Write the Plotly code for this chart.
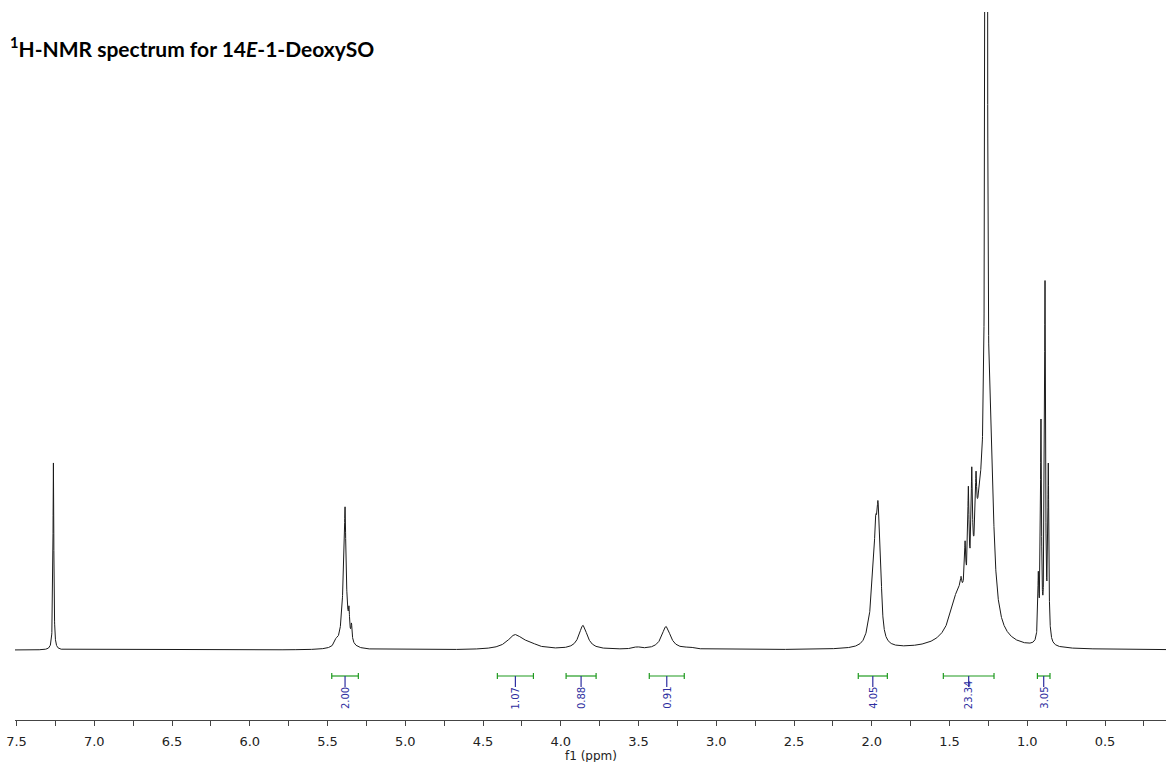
import numpy as np
import plotly.graph_objects as go

# peaks: shift (ppm), height (intensity units), half width (ppm)
peak_ppm = [7.263,
            5.445, 5.390, 5.387, 5.362, 5.346,
            4.294, 4.200, 3.857, 3.510, 3.323, 3.170,
            2.010, 1.990, 1.975, 1.960, 1.945,
            1.445, 1.426, 1.400, 1.379, 1.357, 1.330, 1.301, 1.264, 1.233,
            0.929, 0.912, 0.886, 0.865]
peak_height = [187,
               5, 85, 60, 20, 15,
               14, 4, 24, 2, 23, 1.5,
               20, 45, 75, 97, 55,
               45, 10, 45, 95, 100, 57, 125, 3133, 130,
               60, 215, 355, 170]
peak_hwhm = [0.0032,
             0.012, 0.016, 0.0045, 0.004, 0.004,
             0.06, 0.06, 0.032, 0.03, 0.034, 0.04,
             0.026, 0.0103, 0.0103, 0.0103, 0.0103,
             0.06, 0.005, 0.005, 0.005, 0.005, 0.005, 0.048, 0.0037, 0.021,
             0.004, 0.004, 0.004, 0.004]

# integral regions (ppm) and their values
integral_start = [5.473, 4.408, 3.966, 3.431, 2.087, 1.540, 0.935]
integral_end = [5.302, 4.176, 3.773, 3.206, 1.900, 1.214, 0.854]
integral_value = ['2.00', '1.07', '0.88', '0.91', '4.05', '23.34', '3.05']

ppm = np.arange(0.10, 7.52, 0.0005)
intensity = np.zeros_like(ppm)
for p, h, w in zip(peak_ppm, peak_height, peak_hwhm):
    intensity += h / (1 + ((ppm - p) / w) ** 2)

fig = go.Figure()
fig.add_trace(go.Scatter(x=ppm, y=intensity, mode='lines',
                         line=dict(color='#1a1a1a', width=1), hoverinfo='skip'))

# integral bars
bar_y = -26
cap = 3
tick_bottom = -37
label_y = -61
gx, gy, bx, by = [], [], [], []
for s, e in zip(integral_start, integral_end):
    gx += [s, e, None, s, s, None, e, e, None]
    gy += [bar_y, bar_y, None, bar_y - cap, bar_y + cap, None, bar_y - cap, bar_y + cap, None]
    mid = (s + e) / 2
    bx += [mid, mid, None]
    by += [bar_y, tick_bottom, None]
fig.add_trace(go.Scatter(x=gx, y=gy, mode='lines', line=dict(color='#1f9a1f', width=1.2),
                         hoverinfo='skip'))
fig.add_trace(go.Scatter(x=bx, y=by, mode='lines', line=dict(color='#2e2ea0', width=1.2),
                         hoverinfo='skip'))
for s, e, v in zip(integral_start, integral_end, integral_value):
    fig.add_annotation(x=(s + e) / 2, y=label_y, text=v, textangle=-90, showarrow=False,
                       xanchor='center', yanchor='bottom',
                       font=dict(family='DejaVu Sans', size=10, color='#2e2ea0'))

fig.add_annotation(x=0, y=1, xref='paper', yref='paper', xanchor='left', yanchor='middle',
                   xshift=-7, yshift=-35, showarrow=False,
                   text='<b><sup>1</sup>H-NMR spectrum for 14<i>E</i>-1-DeoxySO</b>',
                   font=dict(family='Lato', size=21, color='black'))
fig.add_annotation(x=0.5, y=0, xref='paper', yref='paper', xanchor='center', yanchor='middle',
                   yshift=-36, showarrow=False, text='f1 (ppm)',
                   font=dict(family='DejaVu Sans', size=12, color='#222'))

fig.update_layout(width=1166, height=762, autosize=False,
                  margin=dict(l=15, r=0, t=12, b=42),
                  plot_bgcolor='white', paper_bgcolor='white', showlegend=False)
fig.update_xaxes(range=[7.51, 0.108], showline=True, linecolor='#444', linewidth=1,
                 ticks='outside', ticklen=5, tickcolor='#444', tick0=0, dtick=0.5,
                 tickformat='.1f', showgrid=False, zeroline=False, ticklabelstandoff=4,
                 ticklabeloverflow='allow',
                 tickfont=dict(family='DejaVu Sans', size=13, color='#222'),
                 minor=dict(dtick=0.25, ticks='outside', ticklen=5, tickcolor='#444'))
fig.update_yaxes(visible=False, range=[-70, 638])

# drop the default page margin so the figure fills the window
fig.write_html('out.html', config={'displayModeBar': False},
               post_script="document.body.style.margin='0';")
